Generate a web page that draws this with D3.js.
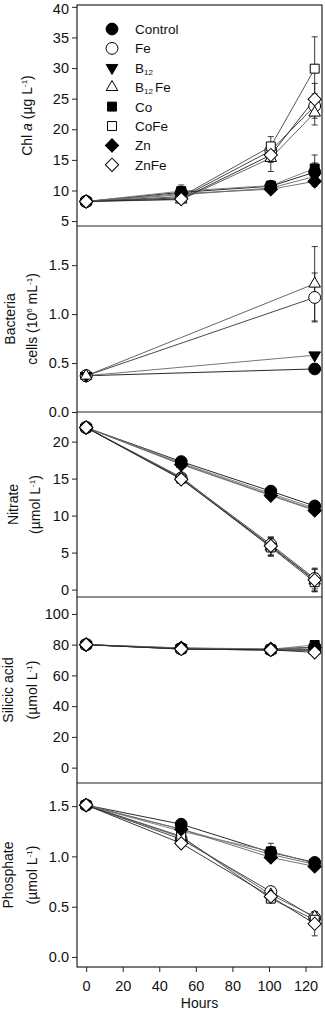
<!DOCTYPE html>
<html lang="en">
<head>
<meta charset="UTF-8">
<title>Incubation time series</title>
<script src="https://cdn.jsdelivr.net/npm/d3@7/dist/d3.min.js"></script>
<style>
  body { margin: 0; background: #fff; }
  svg { display: block; font-family: "Liberation Sans", Arial, sans-serif; }
</style>
</head>
<body>
<div id="chart"></div>
<script>
// --- data ---
const series = ['Control', 'Fe', 'B12', 'B12Fe', 'Co', 'CoFe', 'Zn', 'ZnFe'];
const hours = [0, 52, 101, 125];

// Chl a (ug/L), one row per series
const chl = [
  [8.2, 9.7, 10.7, 13.0],
  [8.2, 8.8, 16.5, 23.8],
  [8.2, 9.3, 10.4, 12.3],
  [8.2, 8.5, 15.3, 22.7],
  [8.2, 9.9, 10.8, 13.6],
  [8.2, 9.0, 17.2, 29.9],
  [8.2, 9.5, 10.2, 11.5],
  [8.2, 8.6, 15.8, 24.9]
];
const chlErr = [
  [0.2, 1.2, 0.6, 1.5],
  [0.2, 0.5, 1.0, 2.0],
  [0.2, 0.5, 0.5, 1.0],
  [0.2, 0.5, 2.2, 2.0],
  [0.2, 0.6, 0.5, 2.2],
  [0.2, 0.5, 1.6, 5.2],
  [0.2, 0.5, 0.5, 0.8],
  [0.2, 0.6, 1.2, 2.6]
];

// bacteria (10^6 cells/mL), only t = 0 and t = 125
const bactHours = [0, 125];
const bact = [
  [0.37, 0.44],
  [0.37, 1.17],
  [0.37, 0.58],
  [0.37, 1.31],
  null, null, null, null
];
const bactErr = [
  [0.02, 0.02],
  [0.02, 0.25],
  [0.02, 0.02],
  [0.02, 0.38],
  null, null, null, null
];

// nitrate (umol/L)
const nitrate = [
  [21.9, 17.3, 13.3, 11.3],
  [21.9, 15.1, 6.1, 1.5],
  [21.9, 17.0, 12.8, 10.8],
  [21.9, 15.2, 5.8, 1.2],
  [21.9, 17.1, 13.0, 11.0],
  [21.9, 15.0, 5.7, 1.0],
  [21.9, 16.9, 12.7, 10.7],
  [21.9, 14.9, 5.9, 1.3]
];
const nitrateErr = [
  [0.2, 0.3, 0.4, 0.4],
  [0.2, 0.3, 1.0, 1.4],
  [0.2, 0.3, 0.4, 0.4],
  [0.2, 0.3, 1.2, 1.5],
  [0.2, 0.3, 0.4, 0.4],
  [0.2, 0.3, 1.2, 1.2],
  [0.2, 0.3, 0.4, 0.4],
  [0.2, 0.3, 1.2, 1.5]
];

// silicic acid (umol/L)
const silicic = [
  [80, 77.5, 76.8, 78.5],
  [80, 77.2, 76.5, 76.5],
  [80, 77.8, 76.9, 78.0],
  [80, 77.3, 76.4, 76.2],
  [80, 77.6, 77.0, 79.8],
  [80, 77.1, 76.6, 76.8],
  [80, 77.9, 77.2, 78.2],
  [80, 77.2, 76.6, 75.0]
];

// phosphate (umol/L)
const phosphate = [
  [1.51, 1.32, 1.04, 0.94],
  [1.51, 1.17, 0.65, 0.39],
  [1.51, 1.27, 1.02, 0.92],
  [1.51, 1.19, 0.62, 0.40],
  [1.51, 1.25, 1.05, 0.93],
  [1.51, 1.20, 0.58, 0.37],
  [1.51, 1.27, 0.99, 0.90],
  [1.51, 1.13, 0.60, 0.33]
];
const phosphateErr = [
  [0.01, 0.02, 0.09, 0.03],
  [0.01, 0.02, 0.04, 0.05],
  [0.01, 0.02, 0.03, 0.03],
  [0.01, 0.02, 0.04, 0.05],
  [0.01, 0.02, 0.03, 0.03],
  [0.01, 0.02, 0.04, 0.05],
  [0.01, 0.02, 0.03, 0.03],
  [0.01, 0.02, 0.04, 0.12]
];

// --- style per series ---
const markerShape = ['circle', 'circle', 'down', 'up', 'square', 'square', 'diamond', 'diamond'];
const markerFilled = [true, false, true, false, true, false, true, false];
const lineColor = ['#111', '#333', '#666', '#555', '#777', '#444', '#666', '#222'];

const W = 325, H = 1012;
const left = 77, right = 322;
const tickFont = 14.5, labelFont = 14;

const panels = [
  { top: 5,   bottom: 226, domain: [4.2, 40.3], ticks: d3.range(5, 41, 5),  fmt: d3.format('d'),   t: hours,     v: chl,       e: chlErr },
  { top: 226, bottom: 412, domain: [0, 1.9],    ticks: [0, 0.5, 1, 1.5],    fmt: d3.format('.1f'), t: bactHours, v: bact,      e: bactErr },
  { top: 412, bottom: 597, domain: [-1, 24],    ticks: d3.range(0, 21, 5),  fmt: d3.format('d'),   t: hours,     v: nitrate,   e: nitrateErr },
  { top: 597, bottom: 783, domain: [-10, 111],  ticks: d3.range(0, 101, 20),fmt: d3.format('d'),   t: hours,     v: silicic,   e: null },
  { top: 783, bottom: 967, domain: [-0.1, 1.73],ticks: [0, 0.5, 1, 1.5],    fmt: d3.format('.1f'), t: hours,     v: phosphate, e: phosphateErr }
];

const x = d3.scaleLinear().domain([-5, 129]).range([left, right]);

const svg = d3.select('#chart').append('svg')
  .attr('width', W).attr('height', H);

// marker path
const sym = d3.symbol();
function markerPath(shape) {
  if (shape === 'circle') return sym.type(d3.symbolCircle).size(110)();
  if (shape === 'square') return sym.type(d3.symbolSquare).size(80)();
  if (shape === 'diamond') return sym.type(d3.symbolSquare).size(88)();
  return sym.type(d3.symbolTriangle).size(58)();
}
function markerRotate(shape) {
  if (shape === 'diamond') return 45;
  if (shape === 'down') return 180;
  return 0;
}
function drawMarker(g, i, px, py) {
  const s = markerShape[i];
  g.append('path')
    .attr('d', markerPath(s))
    .attr('transform', `translate(${px},${py}) rotate(${markerRotate(s)})`)
    .attr('fill', markerFilled[i] ? '#000' : '#fff')
    .attr('stroke', '#000')
    .attr('stroke-width', 1);
}

panels.forEach((p, pi) => {
  const y = d3.scaleLinear().domain(p.domain).range([p.bottom, p.top]);
  const g = svg.append('g');

  // y axis ticks
  const yAxis = d3.axisLeft(y).tickValues(p.ticks).tickFormat(p.fmt).tickSize(5).tickPadding(3);
  const ax = g.append('g').attr('transform', `translate(${left},0)`).call(yAxis);
  ax.select('.domain').remove();
  ax.selectAll('line').attr('stroke', '#222');
  ax.selectAll('text').attr('font-size', tickFont).attr('fill', '#111')
    .attr('font-family', '"Liberation Sans", Arial, sans-serif');
  // the top label sits right at the edge of the window, nudge it down a bit
  if (pi === 0) ax.selectAll('text').filter(d => d === 40).attr('dy', '0.45em');

  const line = d3.line().x(d => x(d[0])).y(d => y(d[1]));

  // connecting lines
  p.v.forEach((vals, i) => {
    if (!vals) return;
    g.append('path')
      .attr('d', line(vals.map((v, k) => [p.t[k], v])))
      .attr('fill', 'none')
      .attr('stroke', lineColor[i])
      .attr('stroke-width', 0.9);
  });

  // error bars
  if (p.e) {
    p.v.forEach((vals, i) => {
      if (!vals) return;
      vals.forEach((v, k) => {
        const err = p.e[i][k];
        const px = x(p.t[k]);
        const y1 = y(v + err), y2 = y(v - err);
        g.append('line').attr('x1', px).attr('x2', px).attr('y1', y1).attr('y2', y2)
          .attr('stroke', '#222').attr('stroke-width', 0.9);
        [y1, y2].forEach(yy => {
          g.append('line').attr('x1', px - 3).attr('x2', px + 3).attr('y1', yy).attr('y2', yy)
            .attr('stroke', '#222').attr('stroke-width', 0.9);
        });
      });
    });
  }

  // markers
  p.v.forEach((vals, i) => {
    if (!vals) return;
    vals.forEach((v, k) => drawMarker(g, i, x(p.t[k]), y(v)));
  });
});

// frame and separators
svg.append('rect')
  .attr('x', left).attr('y', panels[0].top)
  .attr('width', right - left).attr('height', panels[4].bottom - panels[0].top)
  .attr('fill', 'none').attr('stroke', '#222').attr('stroke-width', 1.2);
panels.slice(1).forEach(p => {
  svg.append('line').attr('x1', left).attr('x2', right).attr('y1', p.top).attr('y2', p.top)
    .attr('stroke', '#222').attr('stroke-width', 1.2);
});

// x axis
const xAxis = d3.axisBottom(x).tickValues(d3.range(0, 121, 20)).tickSize(5).tickPadding(9);
const xg = svg.append('g').attr('transform', `translate(0,${panels[4].bottom})`).call(xAxis);
xg.select('.domain').remove();
xg.selectAll('line').attr('stroke', '#222');
xg.selectAll('text').attr('font-size', tickFont).attr('fill', '#111')
  .attr('font-family', '"Liberation Sans", Arial, sans-serif');

svg.append('text')
  .attr('x', (left + right) / 2).attr('y', 1008)
  .attr('text-anchor', 'middle').attr('font-size', labelFont).attr('fill', '#111')
  .text('Hours');

// y labels (rotated), parts: [text, style]
function yLabel(lineX, cy, parts) {
  const t = svg.append('text')
    .attr('transform', `translate(${lineX},${cy}) rotate(-90)`)
    .attr('text-anchor', 'middle').attr('font-size', labelFont).attr('fill', '#111');
  parts.forEach(([s, kind]) => {
    const ts = t.append('tspan').text(s);
    if (kind === 'i') ts.attr('font-style', 'italic');
    if (kind === 'sup') ts.attr('font-size', 8).attr('baseline-shift', '60%');
    if (kind === 'n') ts.attr('baseline-shift', '0');
  });
}
const mid = p => (p.top + p.bottom) / 2;
const unitParts = [['(µmol L'], ['-1', 'sup'], [')', 'n']];

yLabel(32, mid(panels[0]), [['Chl '], ['a', 'i'], [' (µg L'], ['-1', 'sup'], [')', 'n']]);
yLabel(15, mid(panels[1]), [['Bacteria']]);
yLabel(37, mid(panels[1]), [['cells (10'], ['6', 'sup'], [' mL', 'n'], ['-1', 'sup'], [')', 'n']]);
yLabel(18, mid(panels[2]), [['Nitrate']]);
yLabel(40, mid(panels[2]), unitParts);
yLabel(13, mid(panels[3]), [['Silicic acid']]);
yLabel(37, mid(panels[3]), unitParts);
yLabel(13, mid(panels[4]), [['Phosphate']]);
yLabel(37, mid(panels[4]), unitParts);

// legend
const legendNames = [
  [['Control']], [['Fe']], [['B'], ['12', 'sub']], [['B'], ['12', 'sub'], ['Fe', 'n']],
  [['Co']], [['CoFe']], [['Zn']], [['ZnFe']]
];
const leg = svg.append('g');
series.forEach((s, i) => {
  const ly = 29 + i * 19.4;
  drawMarker(leg, i, 112, ly);
  const t = leg.append('text')
    .attr('x', 135).attr('y', ly + 5)
    .attr('font-size', 13.5).attr('fill', '#111');
  legendNames[i].forEach(([txt, kind]) => {
    const ts = t.append('tspan').text(txt);
    if (kind === 'sub') ts.attr('font-size', 8).attr('baseline-shift', '-30%');
    if (kind === 'n') ts.attr('baseline-shift', '0').attr('dx', 2);
  });
});
</script>
</body>
</html>
